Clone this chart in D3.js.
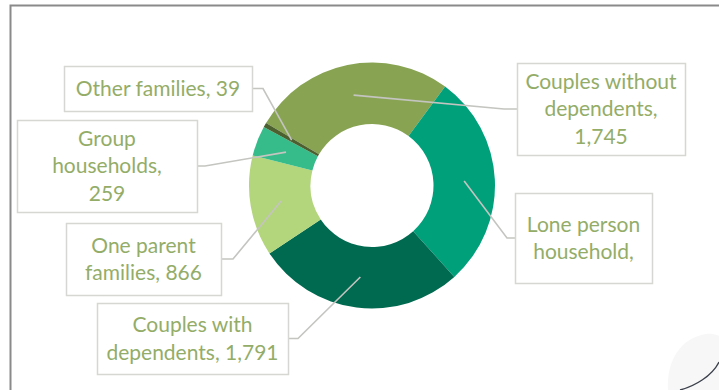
<!DOCTYPE html>
<html>
<head>
<meta charset="utf-8">
<script src="https://cdn.jsdelivr.net/npm/d3@7"></script>
<style>
  html, body { margin: 0; padding: 0; background: #fff; }
  svg { display: block; }
  .label-text { font-family: Lato, "Open Sans", sans-serif; font-size: 21px; fill: #93ad68; }
</style>
</head>
<body>
<div id="chart"></div>
<script>
const width = 719;
const height = 390;

// household types, clockwise from the slice that sits just left of 12 o'clock
const categories = [
    "Couples without dependents",
    "Lone person household",
    "Couples with dependents",
    "One parent families",
    "Group households",
    "Other families"
];
const values = [1745, 1846, 1791, 866, 259, 39];
const colors = ["#88a453", "#00a07b", "#006a51", "#b3d57b", "#36bc8a", "#4b5f2f"];
// label text as printed in the chart (the lone person value is cut off in the original)
const labelLines = [
    ["Couples without", "dependents,", "1,745"],
    ["Lone person", "household,"],
    ["Couples with", "dependents, 1,791"],
    ["One parent", "families, 866"],
    ["Group", "households,", "259"],
    ["Other families, 39"]
];

// where the label boxes sit
const boxes = [
    { x: 517, y: 63, w: 168, h: 92, side: "left", stub: 13 },
    { x: 515, y: 193, w: 137, h: 90, side: "left", stub: 8 },
    { x: 97, y: 303, w: 191, h: 71, side: "right", stub: 10 },
    { x: 66, y: 223, w: 155, h: 72, side: "right", stub: 12 },
    { x: 17, y: 120, w: 180, h: 92, side: "right", stub: 8 },
    { x: 64, y: 66, w: 188, h: 45, side: "right", stub: 11 }
];

const cx = 372, cy = 185.5;
const outerR = 123, innerR = 61.5;
const startDeg = -59.5;
const lineHeight = 27.5;

const svg = d3.select("#chart")
    .append("svg")
    .attr("width", width)
    .attr("height", height);

// frame of the chart area
svg.append("path")
    .attr("d", `M10.5,${height} V5.5 H${width}`)
    .attr("fill", "none")
    .attr("stroke", "#8a8a8a")
    .attr("stroke-width", 2);

// faint curl in the bottom-right corner
svg.append("path")
    .attr("d", "M668,390 C666,362 680,338 706,334 C713,333 719,336 719,336 V390 Z")
    .attr("fill", "#f7f7f7");
svg.append("path")
    .attr("d", "M680,390 C695,386 712,376 719,362")
    .attr("fill", "none")
    .attr("stroke", "#3a3f4a")
    .attr("stroke-width", 1.3);

const pie = d3.pie()
    .value(d => d.value)
    .sort(null)
    .startAngle(startDeg * Math.PI / 180)
    .endAngle(startDeg * Math.PI / 180 + 2 * Math.PI);

const arc = d3.arc().innerRadius(innerR).outerRadius(outerR);

const data = categories.map((c, i) => ({ name: c, value: values[i], color: colors[i], lines: labelLines[i], box: boxes[i] }));
const arcs = pie(data);

const g = svg.append("g").attr("transform", `translate(${cx},${cy})`);

g.selectAll("path.slice")
    .data(arcs)
    .enter()
    .append("path")
    .attr("class", "slice")
    .attr("d", arc)
    .attr("fill", d => d.data.color);

// leader lines from the box edge to the slice centroid
svg.selectAll("polyline.leader")
    .data(arcs)
    .enter()
    .append("polyline")
    .attr("class", "leader")
    .attr("fill", "none")
    .attr("stroke", "#c4c4c0")
    .attr("stroke-width", 1.6)
    .attr("points", d => {
        const b = d.data.box;
        const ay = b.y + b.h / 2;
        const ex = b.side === "right" ? b.x + b.w : b.x;
        const sx = b.side === "right" ? ex + b.stub : ex - b.stub;
        const c = arc.centroid(d);
        return [[ex, ay], [sx, ay], [cx + c[0], cy + c[1]]].map(p => p.join(",")).join(" ");
    });

const labels = svg.selectAll("g.label")
    .data(data)
    .enter()
    .append("g")
    .attr("class", "label");

labels.append("rect")
    .attr("x", d => d.box.x + 0.5)
    .attr("y", d => d.box.y + 0.5)
    .attr("width", d => d.box.w)
    .attr("height", d => d.box.h)
    .attr("fill", "#fff")
    .attr("stroke", "#d6d6d2")
    .attr("stroke-width", 1.5);

labels.each(function(d) {
    const n = d.lines.length;
    const midY = d.box.y + d.box.h / 2;
    d3.select(this).selectAll("text")
        .data(d.lines)
        .enter()
        .append("text")
        .attr("class", "label-text")
        .attr("text-anchor", "middle")
        .attr("x", d.box.x + d.box.w / 2)
        .attr("y", (t, i) => midY + (i - (n - 1) / 2) * lineHeight)
        .attr("dy", "0.35em")
        .text(t => t);
});
</script>
</body>
</html>
